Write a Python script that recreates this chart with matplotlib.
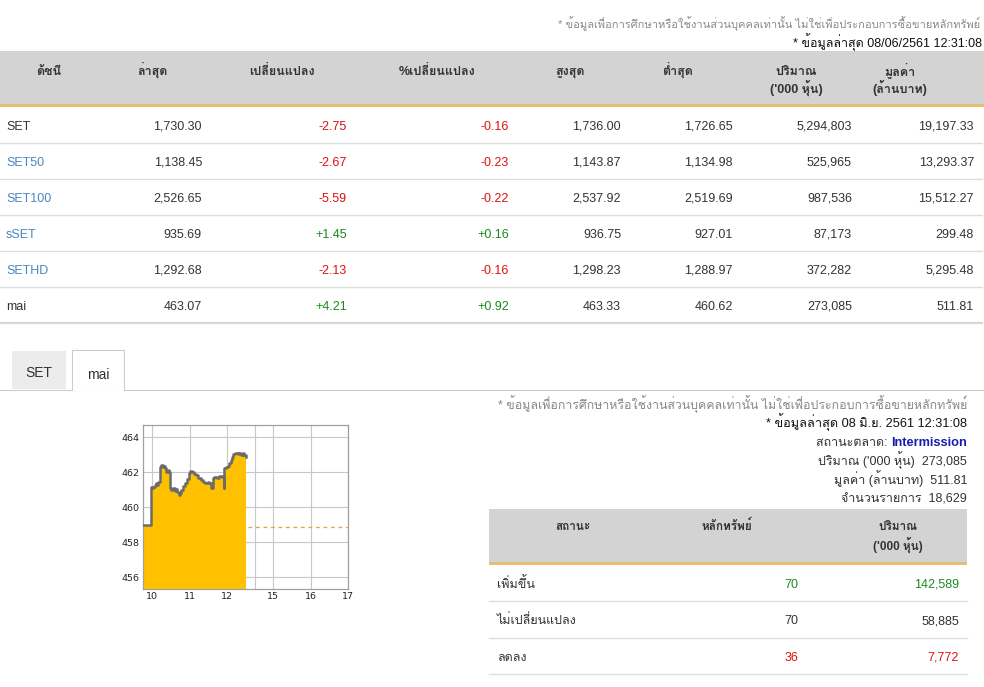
import matplotlib
matplotlib.use('Agg')
import matplotlib.pyplot as plt
from matplotlib import font_manager, ft2font
from matplotlib.patches import Rectangle

# index table
index_names = ['SET', 'SET50', 'SET100', 'sSET', 'SETHD', 'mai']
last = [1730.30, 1138.45, 2526.65, 935.69, 1292.68, 463.07]
change = [-2.75, -2.67, -5.59, 1.45, -2.13, 4.21]
pct_change = [-0.16, -0.23, -0.22, 0.16, -0.16, 0.92]
high = [1736.00, 1143.87, 2537.92, 936.75, 1298.23, 463.33]
low = [1726.65, 1134.98, 2519.69, 927.01, 1288.97, 460.62]
volume = [5294803, 525965, 987536, 87173, 372282, 273085]
value_mb = [19197.33, 13293.37, 15512.27, 299.48, 5295.48, 511.81]
header_top = ['ดัชนี', 'ล่าสุด', 'เปลี่ยนแปลง', '%เปลี่ยนแปลง', 'สูงสุด', 'ต่ำสุด', 'ปริมาณ', 'มูลค่า']
header_sub = ['', '', '', '', '', '', "('000 หุ้น)", '(ล้านบาท)']

# mai summary
mai_volume = 273085
mai_value = 511.81
mai_deals = 18629
status_labels = ['เพิ่มขึ้น', 'ไม่เปลี่ยนแปลง', 'ลดลง']
status_count = [70, 70, 36]
status_volume = [142589, 58885, 7772]

# mai intraday
mai_prev_close = 458.86
mai_times = ['09:45', '09:58', '10:00', '10:02', '10:04', '10:06', '10:08', '10:10',
             '10:12', '10:14', '10:17', '10:19', '10:21', '10:23', '10:25', '10:27',
             '10:29', '10:31', '10:33', '10:36', '10:38', '10:40', '10:43', '10:45',
             '10:47', '10:50', '10:53', '10:56', '10:59', '11:01', '11:04', '11:07',
             '11:10', '11:14', '11:18', '11:21', '11:25', '11:29', '11:32', '11:34',
             '11:37', '11:40', '11:44', '11:48', '11:52', '11:55', '11:56', '11:59',
             '12:02', '12:04', '12:06', '12:08', '12:10', '12:13', '12:17', '12:20',
             '12:22', '12:25', '12:27', '12:31']
mai_values = [458.99, 461.18, 461.09, 461.18, 461.28, 461.37, 461.28, 461.45,
              462.32, 462.40, 462.28, 462.36, 462.23, 462.04, 462.12, 462.04,
              461.12, 461.00, 461.08, 460.94, 461.02, 460.86, 460.70, 460.80,
              461.00, 461.20, 461.37, 461.60, 461.94, 462.06, 462.00, 461.90,
              461.83, 461.70, 461.56, 461.47, 461.37, 461.42, 461.37, 461.08,
              461.66, 461.75, 461.70, 461.78, 461.72, 461.08, 462.23, 462.30,
              462.36, 462.55, 462.70, 462.90, 463.03, 463.09, 463.05, 463.09,
              462.98, 463.09, 462.99, 462.90]
hour_ticks = ['10:00', '11:00', '12:00', '14:30', '15:00', '16:00', '17:00']
hour_labels = ['10', '11', '12', '', '15', '16', '17']


def find_thai_font():
    """first installed family that has Thai glyphs"""
    for f in font_manager.fontManager.ttflist:
        try:
            cmap = ft2font.FT2Font(f.fname).get_charmap()
        except Exception:
            continue
        if 0x0E01 in cmap and 0x0E49 in cmap:
            return f.name
    return 'DejaVu Sans'


def session_hours(hhmm):
    """hours on the chart axis, lunch break squeezed"""
    h, m = map(int, hhmm.split(':'))
    t = h + m / 60.0
    return t - 1.76 if t >= 14.5 else t


THAI = find_thai_font()
plt.rcParams['font.family'] = ['Liberation Sans', THAI, 'DejaVu Sans']

DARK = '#333333'
RED = '#e01010'
GREEN = '#1a8a1a'
BLUE = '#4a86c0'
GREY_NOTE = '#888888'
HEAD_BG = '#d3d3d3'
TAN = '#e8bd6e'
LINE = '#dddddd'

fig = plt.figure(figsize=(9.84, 6.87), dpi=100)
ax = fig.add_axes([0, 0, 1, 1])
ax.set_xlim(0, 984)
ax.set_ylim(687, 0)
ax.axis('off')

NOTE = '* ข้อมูลเพื่อการศึกษาหรือใช้งานส่วนบุคคลเท่านั้น ไม่ใช่เพื่อประกอบการซื้อขายหลักทรัพย์'
ax.text(980, 28, NOTE, ha='right', va='baseline', fontsize=8, color=GREY_NOTE)
ax.text(982, 47, '* ข้อมูลล่าสุด 08/06/2561 12:31:08', ha='right', va='baseline',
        fontsize=9, color='#111111')

# top table header
ax.add_patch(Rectangle((0, 51), 984, 53, color=HEAD_BG, lw=0))
ax.add_patch(Rectangle((0, 104), 984, 3, color=TAN, lw=0))
head_x = [49, 152, 282, 437, 570, 678, 796, 900]
for x, t1, t2 in zip(head_x, header_top, header_sub):
    ax.text(x, 75, t1, ha='center', va='baseline', fontsize=9, color=DARK, weight='bold')
    if t2:
        ax.text(x, 93, t2, ha='center', va='baseline', fontsize=9, color=DARK, weight='bold')

# top table rows
col_right = [202, 347, 509, 621, 733, 852, 974]
for i, name in enumerate(index_names):
    yc = 125 + 36 * i
    yb = yc + 4.5
    ax.text(6, yb, name, ha='left', va='baseline', fontsize=9,
            color=DARK if name in ('SET', 'mai') else BLUE)
    ccol = RED if change[i] < 0 else GREEN
    cells = [(f'{last[i]:,.2f}', DARK), (f'{change[i]:+.2f}', ccol),
             (f'{pct_change[i]:+.2f}', ccol), (f'{high[i]:,.2f}', DARK),
             (f'{low[i]:,.2f}', DARK), (f'{volume[i]:,}', DARK),
             (f'{value_mb[i]:,.2f}', DARK)]
    for x, (txt, c) in zip(col_right, cells):
        ax.text(x, yb, txt, ha='right', va='baseline', fontsize=9, color=c)
    if i < len(index_names) - 1:
        ax.plot([0, 982], [yc + 18, yc + 18], color=LINE, lw=1)
ax.plot([0, 982], [323, 323], color='#d6d6d6', lw=1.6)

# tabs
ax.add_patch(Rectangle((12, 351), 54, 38, color='#ececec', lw=0))
ax.add_patch(Rectangle((72, 350), 52, 40, facecolor='white', edgecolor='#cccccc', lw=0.8))
ax.plot([0, 72], [389.5, 389.5], color='#cccccc', lw=0.8)
ax.plot([124, 984], [389.5, 389.5], color='#cccccc', lw=0.8)
ax.add_patch(Rectangle((72.5, 388), 51, 3, color='white', lw=0))
ax.text(39, 377, 'SET', ha='center', va='baseline', fontsize=10, color=DARK)
ax.text(98, 379, 'mai', ha='center', va='baseline', fontsize=10, color=DARK)

# right side summary
ax.text(967, 409, NOTE, ha='right', va='baseline', fontsize=8.9, color=GREY_NOTE)
ax.text(967, 427, '* ข้อมูลล่าสุด 08 มิ.ย. 2561 12:31:08', ha='right', va='baseline',
        fontsize=9.2, color='#111111')
im = ax.text(967, 446, 'Intermission', ha='right', va='baseline', fontsize=9.2,
             color='#1a1ab0', weight='bold')
fig.canvas.draw()
w = im.get_window_extent(fig.canvas.get_renderer()).width
ax.text(967 - w, 446, 'สถานะตลาด: ', ha='right', va='baseline', fontsize=9, color=DARK)
ax.text(967, 465, f"ปริมาณ ('000 หุ้น)  {mai_volume:,}", ha='right', va='baseline',
        fontsize=9, color=DARK)
ax.text(967, 484, f'มูลค่า (ล้านบาท)  {mai_value:,.2f}', ha='right', va='baseline',
        fontsize=9, color=DARK)
ax.text(967, 503, f'จำนวนรายการ  {mai_deals:,}', ha='right', va='baseline',
        fontsize=9, color=DARK)

# status table
ax.add_patch(Rectangle((489, 509), 478, 53, color=HEAD_BG, lw=0))
ax.add_patch(Rectangle((489, 562), 478, 3, color=TAN, lw=0))
ax.text(573, 530, 'สถานะ', ha='center', va='baseline', fontsize=8.5, color=DARK, weight='bold')
ax.text(727, 530, 'หลักทรัพย์', ha='center', va='baseline', fontsize=8.5, color=DARK, weight='bold')
ax.text(898, 530, 'ปริมาณ', ha='center', va='baseline', fontsize=8.5, color=DARK, weight='bold')
ax.text(898, 550, "('000 หุ้น)", ha='center', va='baseline', fontsize=8.5, color=DARK, weight='bold')
status_col = [GREEN, DARK, RED]
for i, lab in enumerate(status_labels):
    yc = 583 + 36.7 * i
    yb = yc + 4.5
    ax.text(497, yb, lab, ha='left', va='baseline', fontsize=9, color=DARK)
    ax.text(798, yb, f'{status_count[i]}', ha='right', va='baseline', fontsize=9,
            color=status_col[i])
    ax.text(959, yb, f'{status_volume[i]:,}', ha='right', va='baseline', fontsize=9,
            color=status_col[i])
    ax.plot([489, 967], [yc + 18, yc + 18], color=LINE, lw=1)

# mai intraday chart
cx = fig.add_axes([142.7 / 984, (687 - 589) / 687, 205.6 / 984, 164 / 687])
xs = [session_hours(t) for t in mai_times]
y_floor = 455.33
cx.axhline(mai_prev_close, color='#f0a030', ls=(0, (3, 3)), lw=0.9, zorder=1.5)
cx.fill_between(xs, mai_values, y_floor, step='post', color='#ffc000', lw=0, zorder=2)
cx.step(xs, mai_values, where='post', color='#6b6b6b', lw=1.8, zorder=3)
cx.set_xlim(9.75, session_hours('17:00'))
cx.set_ylim(y_floor, 464.7)
cx.set_xticks([session_hours(t) for t in hour_ticks])
cx.set_xticklabels(hour_labels)
cx.set_yticks([456, 458, 460, 462, 464])
cx.grid(True, color='#c8c8c8', lw=0.8, zorder=0)
cx.set_axisbelow(True)
cx.tick_params(length=0, pad=2, labelsize=6.8, labelcolor='#222222')
for lab in cx.get_xticklabels() + cx.get_yticklabels():
    lab.set_family('DejaVu Sans')
for sp in cx.spines.values():
    sp.set_color('#a0a0a0')
    sp.set_linewidth(0.9)

fig.savefig('out.png', dpi=100)
